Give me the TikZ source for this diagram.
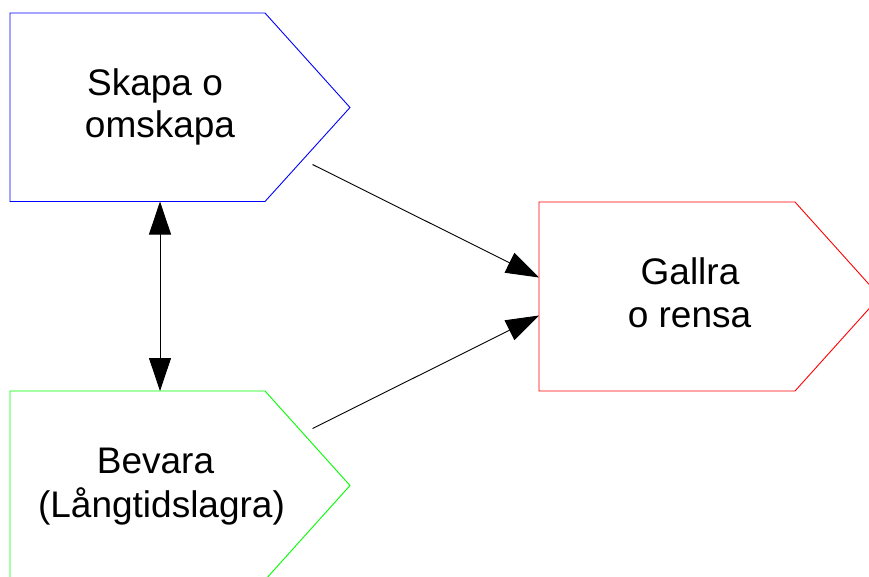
\documentclass[tikz,border=0pt]{standalone}
\usepackage{fontspec}
\setmainfont{Liberation Sans}
\usetikzlibrary{arrows.meta}
\begin{document}
\begin{tikzpicture}[x=1pt,y=-1pt,
  box/.style={line width=0.9pt},
  lbl/.style={anchor=base,inner sep=0pt,font=\fontsize{37}{42}\selectfont},
  conn/.style={line width=0.9pt,-{Triangle[length=33pt,width=22pt]}},
  dconn/.style={line width=0.9pt,{Triangle[length=33pt,width=22pt]}-{Triangle[length=33pt,width=22pt]}}]
\useasboundingbox (0,0) rectangle (869,576);
\clip (0,0) rectangle (869,576);
% shapes
\draw[box,blue] (10,13) -- (265,13) -- (350,107.5) -- (265,201.5) -- (10,201.5) -- cycle;
\draw[box,green] (10,391) -- (265,391) -- (350,485.5) -- (265,580) -- (10,580) -- cycle;
\draw[box,red] (539,202) -- (795,202) -- (880,296.5) -- (795,391) -- (539,391) -- cycle;
% labels
\node[lbl] (s1) at (155,95) {Skapa o};
\node[lbl] (s2) at (160,137) {omskapa};
\node[lbl] (b1) at (155.5,473) {Bevara};
\node[lbl] (b2) at (161.5,517) {(Långtidslagra)};
\node[lbl] (g1) at (690,284) {Gallra};
\node[lbl] (g2) at (689.5,327) {o rensa};
% connector end points
\coordinate (sb) at (160,201.5);
\coordinate (bt) at (160,391);
\coordinate (so) at (312.5,164.5);
\coordinate (bo) at (312.5,428.5);
\coordinate (gi1) at (539,277.5);
\coordinate (gi2) at (539,315.5);
\draw[dconn] (sb) -- (bt);
\draw[conn] (so) -- (gi1);
\draw[conn] (bo) -- (gi2);
\end{tikzpicture}
\end{document}
